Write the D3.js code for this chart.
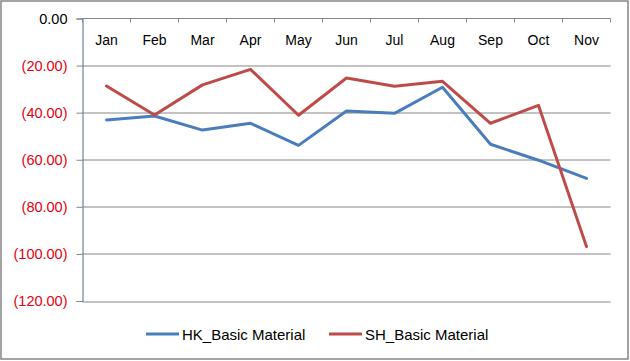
<!DOCTYPE html>
<html>
<head>
<meta charset="utf-8">
<script src="https://cdnjs.cloudflare.com/ajax/libs/d3/7.8.5/d3.min.js"></script>
<style>
    body { margin: 0; background: #fff; }
    svg { display: block; }
</style>
</head>
<body>
<div id="chart"></div>
<script>
// Months on the category axis
const MONTHS = ["Jan", "Feb", "Mar", "Apr", "May", "Jun", "Jul", "Aug", "Sep", "Oct", "Nov"];

// Series values
const HK_VALUES = [-43.1, -41.4, -47.4, -44.5, -53.9, -39.3, -40.3, -29.2, -53.4, -60.2, -67.9];
const SH_VALUES = [-28.7, -41.0, -28.2, -21.6, -41.1, -25.3, -28.8, -26.7, -44.5, -36.9, -96.9];

const SERIES_NAMES = ["HK_Basic Material", "SH_Basic Material"];
const SERIES_COLORS = ["#4a7ebb", "#be4b48"];

// Value axis ticks
const Y_TICKS = [0, -20, -40, -60, -80, -100, -120];

const width = 630;
const height = 361;
const margin = {top: 18.5, right: 19.5, bottom: 60, left: 82.5};
const plotWidth = width - margin.left - margin.right;
const plotHeight = 301 - margin.top;
const FONT = "'Liberation Sans', Arial, sans-serif";

const svg = d3.select('#chart')
    .append('svg')
    .attr('width', width)
    .attr('height', height);

// Chart border
svg.append('rect')
    .attr('x', 1)
    .attr('y', 1)
    .attr('width', 627)
    .attr('height', 358)
    .attr('fill', '#fff')
    .attr('stroke', '#868686')
    .attr('stroke-width', 1.5);

const g = svg.append('g')
    .attr('transform', `translate(${margin.left},${margin.top})`);

// Scales
const xScale = d3.scaleBand()
    .domain(MONTHS)
    .range([0, plotWidth]);

const yScale = d3.scaleLinear()
    .domain([0, -120])
    .range([0, plotHeight]);

// Gridlines
g.append('g')
    .selectAll('line')
    .data(Y_TICKS.filter(d => d !== 0))
    .enter()
    .append('line')
    .attr('x1', 0)
    .attr('x2', plotWidth)
    .attr('y1', d => Math.round(yScale(d)) + 0.5)
    .attr('y2', d => Math.round(yScale(d)) + 0.5)
    .attr('stroke', '#868686')
    .attr('stroke-width', 1);

// Y axis (left)
const yAxis = d3.axisLeft(yScale)
    .tickValues(Y_TICKS)
    .tickSize(6)
    .tickPadding(9)
    .tickFormat(d => d === 0 ? '0.00' : `(${Math.abs(d).toFixed(2)})`);

const yG = g.append('g').call(yAxis);
yG.select('.domain').attr('stroke', '#4f6d8a').attr('stroke-width', 1);
yG.selectAll('.tick line').attr('stroke', '#868686');
yG.selectAll('.tick text')
    .style('font-family', FONT)
    .style('font-size', '14.5px')
    .attr('fill', d => d === 0 ? '#000' : '#e3000f');

// X axis along the zero line at the top, ticks pointing into the plot
const xAxisG = g.append('g');
xAxisG.append('line')
    .attr('x1', 0)
    .attr('x2', plotWidth)
    .attr('y1', 0)
    .attr('y2', 0)
    .attr('stroke', '#868686');

const boundaries = MONTHS.map(m => xScale(m)).concat([plotWidth]);
xAxisG.selectAll('.xtick')
    .data(boundaries)
    .enter()
    .append('line')
    .attr('x1', d => d)
    .attr('x2', d => d)
    .attr('y1', 0)
    .attr('y2', 4)
    .attr('stroke', '#868686');

xAxisG.selectAll('.xlabel')
    .data(MONTHS)
    .enter()
    .append('text')
    .attr('x', d => xScale(d) + xScale.bandwidth() / 2)
    .attr('y', 26.5)
    .attr('text-anchor', 'middle')
    .style('font-family', FONT)
    .style('font-size', '14px')
    .attr('fill', '#000')
    .text(d => d);

// Lines
const line = d3.line()
    .x((d, i) => xScale(MONTHS[i]) + xScale.bandwidth() / 2)
    .y(d => yScale(d));

[HK_VALUES, SH_VALUES].forEach((values, i) => {
    g.append('path')
        .datum(values)
        .attr('d', line)
        .attr('fill', 'none')
        .attr('stroke', SERIES_COLORS[i])
        .attr('stroke-width', 3)
        .attr('stroke-linejoin', 'round')
        .attr('stroke-linecap', 'round');
});

// Legend
const legendItems = [
    {x: 146, name: SERIES_NAMES[0], color: SERIES_COLORS[0]},
    {x: 329, name: SERIES_NAMES[1], color: SERIES_COLORS[1]}
];

const legend = svg.append('g');
legendItems.forEach(item => {
    legend.append('line')
        .attr('x1', item.x)
        .attr('x2', item.x + 33)
        .attr('y1', 334)
        .attr('y2', 334)
        .attr('stroke', item.color)
        .attr('stroke-width', 3);

    legend.append('text')
        .attr('x', item.x + 36)
        .attr('y', 339.5)
        .style('font-family', FONT)
        .style('font-size', '15px')
        .attr('fill', '#000')
        .text(item.name);
});
</script>
</body>
</html>
